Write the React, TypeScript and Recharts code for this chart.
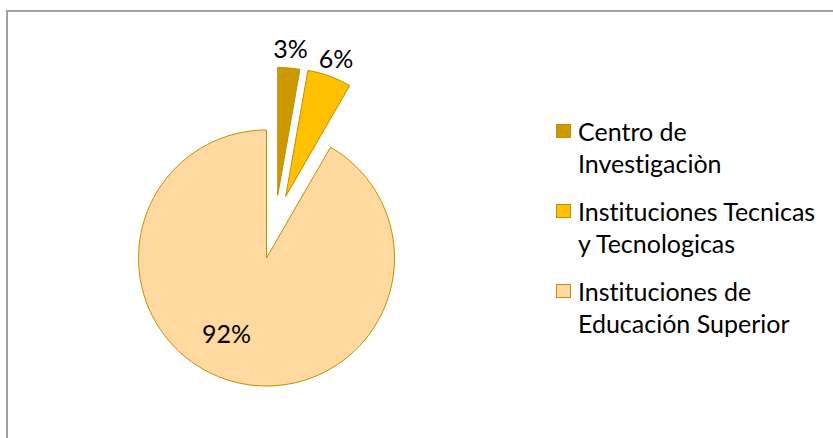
import React from "react";
import { PieChart, Pie, Cell, Legend } from "recharts";

// Datos: número de instituciones por tipo (1 + 2 + 33 = 36 → 3% / 6% / 92%)
const categorias = [
  "Centro de Investigaciòn",
  "Instituciones Tecnicas y Tecnologicas",
  "Instituciones de Educación Superior",
];
const valores = [1, 2, 33];
// cortes de línea de la leyenda, igual que en la hoja original
const lineasLeyenda = [
  ["Centro de", "Investigaciòn"],
  ["Instituciones Tecnicas", "y Tecnologicas"],
  ["Instituciones de", "Educación Superior"],
];

const COLORES = ["#CC9900", "#FFC000", "#FFD99F"];
const COR_BORDE = "#BF9000";
const FUENTE = "Lato, 'Open Sans', sans-serif";

// Centro del pastel y desplazamiento ("explosión") de cada porción
const CX = 266.5;
const CY = 258;
const RADIO = 128;
const explosion = [
  { dx: 11.2, dy: -62.6 },
  { dx: 19.2, dy: -61.6 },
  { dx: 0, dy: 0 },
];
// posición de las etiquetas de porcentaje: radio y giro extra (grados)
const etiquetas = [
  { r: RADIO + 20, giro: 0 },
  { r: RADIO + 19, giro: 0 },
  { r: 85, giro: -13 },
];

const datos = categorias.map((nombre, i) => ({ nombre, valor: valores[i] }));
const RAD = Math.PI / 180;

function etiquetaPara(indice: number) {
  return (p: any) => {
    if (p.index !== indice) return null;
    const conf = etiquetas[indice];
    const ang = p.midAngle + conf.giro;
    const x = p.cx + Math.cos(-ang * RAD) * conf.r;
    const y = p.cy + Math.sin(-ang * RAD) * conf.r;
    return (
      <text
        x={x}
        y={y}
        textAnchor="middle"
        dominantBaseline="central"
        fill="#000"
        fontSize={25}
        fontFamily={FUENTE}
      >
        {Math.round(p.percent * 100)}%
      </text>
    );
  };
}

function LeyendaCustom() {
  return (
    <div
      style={{
        fontFamily: FUENTE,
        fontSize: 25,
        lineHeight: "32px",
        color: "#000",
        fontVariantLigatures: "none",
      }}
    >
      {lineasLeyenda.map((lineas, i) => (
        <div key={i} style={{ display: "flex", marginBottom: i < 2 ? 16 : 0 }}>
          <div
            style={{
              width: 13,
              height: 12,
              marginTop: 9,
              marginRight: 7,
              flexShrink: 0,
              backgroundColor: COLORES[i],
              border: `1px solid ${COR_BORDE}`,
            }}
          />
          <div>
            {lineas.map((l) => (
              <div key={l}>{l}</div>
            ))}
          </div>
        </div>
      ))}
    </div>
  );
}

export default function App() {
  return (
    <div
      style={{
        position: "absolute",
        left: 0,
        top: 0,
        width: 833,
        height: 438,
        overflow: "hidden",
        background: "#fff",
      }}
    >
      {/* marco del gráfico: solo se ven los bordes superior e izquierdo */}
      <div
        style={{
          position: "absolute",
          left: 6,
          top: 10,
          width: 900,
          height: 500,
          borderTop: "2px solid #a0a0a0",
          borderLeft: "2px solid #a0a0a0",
        }}
      />
      <div style={{ position: "absolute", left: 0, top: 0 }}>
        <PieChart width={833} height={438} margin={{ top: 0, right: 0, bottom: 0, left: 0 }}>
          {explosion.map((ex, k) => (
            <Pie
              key={k}
              data={datos}
              dataKey="valor"
              nameKey="nombre"
              cx={CX + ex.dx}
              cy={CY + ex.dy}
              outerRadius={RADIO}
              startAngle={90}
              endAngle={-270}
              isAnimationActive={false}
              label={etiquetaPara(k)}
              labelLine={false}
              legendType="none"
            >
              {datos.map((d, i) => (
                <Cell
                  key={d.nombre}
                  fill={i === k ? COLORES[i] : "none"}
                  stroke={i === k ? COR_BORDE : "none"}
                  strokeWidth={1}
                />
              ))}
            </Pie>
          ))}
          <Legend
            layout="vertical"
            align="center"
            verticalAlign="middle"
            content={() => <LeyendaCustom />}
            wrapperStyle={{ left: 556, top: 115, width: 270, height: "auto" }}
          />
        </PieChart>
      </div>
    </div>
  );
}
